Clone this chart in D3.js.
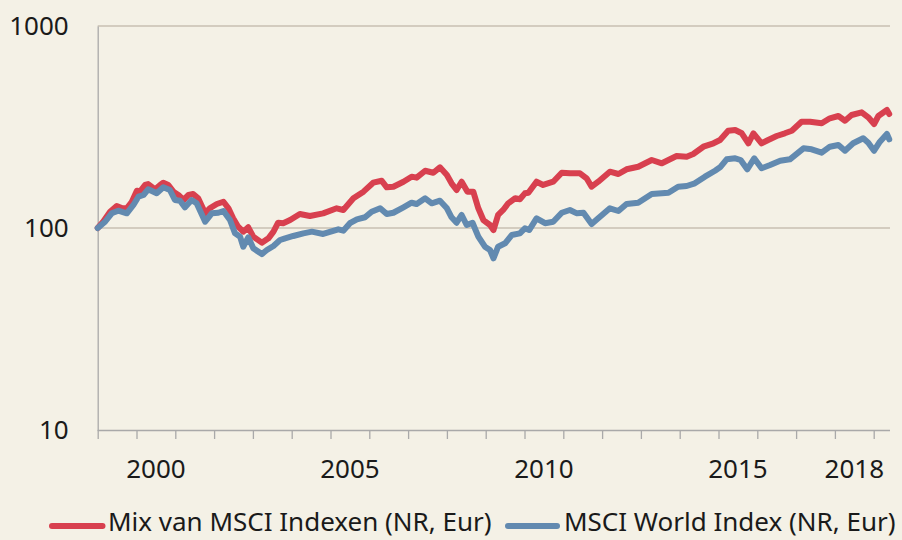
<!DOCTYPE html>
<html>
<head>
<meta charset="utf-8">
<script src="https://cdn.jsdelivr.net/npm/d3@7"></script>
<style>
  html, body { margin: 0; padding: 0; background: #f4f1e6; }
  svg { display: block; }
  text { font-family: "Noto Sans", "Open Sans", sans-serif; fill: #1a1a1a; }
</style>
</head>
<body>
<svg id="chart" width="902" height="540"></svg>
<script>
// ---- Data (decimal years, index values) ----
const seriesNames = ["Mix van MSCI Indexen (NR, Eur)", "MSCI World Index (NR, Eur)"];
const seriesColors = ["#d8404f", "#628ab0"];

const mixDates = [1999.00,1999.14,1999.32,1999.49,1999.62,1999.75,1999.88,2000.01,2000.09,2000.22,2000.30,2000.48,2000.61,2000.69,2000.82,2000.95,
2001.08,2001.21,2001.34,2001.46,2001.59,2001.77,2001.89,2002.07,2002.24,2002.37,2002.49,2002.62,2002.75,2002.88,2003.01,2003.23,2003.40,2003.53,2003.65,2003.78,2003.96,
2004.21,2004.47,2004.81,2005.16,2005.33,2005.59,2005.85,2006.10,2006.32,2006.45,2006.62,2006.88,2007.09,2007.22,2007.44,2007.65,2007.82,2008.00,2008.12,2008.25,2008.38,2008.53,2008.68,2008.81,2008.94,
2009.11,2009.20,2009.32,2009.45,2009.58,2009.76,2009.88,2010.01,2010.10,2010.31,2010.48,2010.74,2010.96,2011.17,2011.43,2011.60,2011.73,2011.90,2012.20,2012.42,2012.63,2012.93,
2013.28,2013.54,2013.71,2013.92,2014.18,2014.35,2014.61,2014.87,2015.04,2015.25,2015.43,2015.60,2015.77,2015.90,2016.11,2016.28,2016.50,2016.71,2016.89,2017.14,2017.36,2017.66,2017.87,
2018.09,2018.26,2018.43,2018.69,2018.86,2019.01,2019.12,2019.34,2019.40];
const mixValues = [100,107.4,120.4,128.5,125.6,125.2,134.9,153.0,151.3,163.3,165.1,155.4,163.3,167.6,163.3,151.3,
145.7,137.6,145.7,147.3,140.3,118.2,125.2,131.5,134.9,125.2,111.7,101.5,95.9,100.8,90.6,84.6,88.9,95.9,106.2,105.6,109.5,
117.3,114.6,118.2,125.2,122.8,140.3,151.3,167.6,171.4,159.0,160.1,169.5,179.5,177.5,192.1,187.8,199.7,182.9,166.4,154.2,169.5,151.3,151.3,125.2,109.5,
103.5,97.7,116.0,122.8,132.5,140.3,138.7,148.5,149.5,169.5,163.3,169.5,187.8,186.6,186.6,176.2,160.1,169.5,190.0,185.1,195.3,201.1,
217.1,209.1,217.1,227.2,225.4,232.4,252.6,262.6,272.7,303.1,305.6,294.3,262.6,294.3,262.6,272.7,285.4,294.3,303.1,335.9,335.9,329.9,349.2,
358.5,339.8,362.6,374.0,353.2,327.2,358.5,383.8,366.8];

const worldDates = [1999.00,1999.19,1999.36,1999.53,1999.75,1999.92,2000.05,2000.18,2000.30,2000.52,2000.69,2000.86,2000.99,
2001.12,2001.25,2001.42,2001.55,2001.77,2001.94,2002.11,2002.24,2002.41,2002.54,2002.67,2002.75,2002.88,2003.01,2003.23,2003.36,2003.53,2003.70,2003.83,
2004.04,2004.30,2004.52,2004.81,2005.20,2005.33,2005.50,2005.68,2005.89,2006.06,2006.28,2006.45,2006.62,2006.88,2007.09,2007.22,2007.44,2007.61,2007.82,
2008.00,2008.12,2008.25,2008.38,2008.51,2008.66,2008.81,2008.98,2009.11,2009.20,2009.32,2009.50,2009.67,2009.88,2010.01,2010.12,2010.31,2010.53,2010.74,2010.96,
2011.17,2011.35,2011.52,2011.73,2011.90,2012.20,2012.42,2012.63,2012.93,2013.28,2013.54,2013.71,2013.96,2014.18,2014.39,2014.65,2014.91,2015.04,2015.21,2015.43,2015.57,2015.74,2015.92,
2016.11,2016.33,2016.59,2016.84,2017.19,2017.40,2017.66,2017.87,2018.09,2018.26,2018.47,2018.73,2018.86,2019.01,2019.16,2019.34,2019.40];
const worldValues = [100,107.4,118.2,121.8,118.2,130.0,142.9,145.7,155.4,148.5,159.0,154.2,137.6,
136.5,126.6,137.6,132.5,107.4,118.2,119.0,121.4,109.5,94.1,90.6,80.8,89.9,79.3,74.3,77.8,81.5,87.2,88.9,
91.3,94.1,95.9,93.4,98.5,97.0,105.6,110.4,113.0,120.4,125.2,117.3,119.0,126.6,133.4,131.5,140.3,132.5,136.5,
125.2,113.0,106.2,116.0,103.5,106.2,90.6,80.8,77.8,70.8,80.8,84.0,92.3,94.1,99.7,97.7,111.7,105.6,107.4,119.0,
122.8,118.2,119.0,104.7,111.7,125.2,121.4,131.5,133.4,147.3,148.5,149.5,160.1,161.4,166.4,179.5,192.1,199.7,218.8,221.3,217.1,195.3,221.3,
197.5,205.0,215.3,218.8,248.0,245.2,235.9,252.6,257.5,241.3,262.6,278.0,264.4,241.3,267.4,291.9,274.8];

const yTickValues = [10, 100, 1000];
const xLabelYears = [2000, 2005, 2010, 2015, 2018];
const xTickYears = d3.range(1999, 2020);

// ---- Layout ----
const svg = d3.select("#chart");
const W = 902, H = 540;
const x0 = 97.7, x1 = 890;
const FONT = 26;

svg.append("rect").attr("width", W).attr("height", H).attr("fill", "#f4f1e6");

const x = d3.scaleLinear().domain([1999, 2019.42]).range([x0, x1]);
const y = d3.scaleLog().domain([10, 1000]).range([430, 26]);

// gridlines
svg.append("g")
  .selectAll("line")
  .data(yTickValues.filter(v => v > 10))
  .join("line")
  .attr("x1", x0).attr("x2", x1)
  .attr("y1", d => y(d)).attr("y2", d => y(d))
  .attr("stroke", "#c9bfb2").attr("stroke-width", 1.3);

// y axis
const yAxis = svg.append("g").attr("transform", `translate(${x0},0)`)
  .call(d3.axisLeft(y).tickValues(yTickValues).tickFormat(d3.format("d")).tickSize(0).tickPadding(29));
yAxis.select(".domain").attr("stroke", "#a9a9a9").attr("stroke-width", 1.3);
yAxis.selectAll("text").attr("font-size", FONT).attr("fill", "#1a1a1a")
  .attr("font-family", '"Noto Sans", "Open Sans", sans-serif');

// x axis ticks
const xAxis = svg.append("g").attr("transform", `translate(0,430)`)
  .call(d3.axisBottom(x).tickValues(xTickYears).tickSize(9).tickFormat(""));
xAxis.select(".domain").attr("stroke", "#a9a9a9").attr("stroke-width", 1.3)
  .attr("d", `M${x0},0.5H${x1}`);
xAxis.selectAll(".tick line").attr("stroke", "#a9a9a9").attr("stroke-width", 1.3);

// x labels centred in year
svg.append("g").selectAll("text")
  .data(xLabelYears)
  .join("text")
  .attr("x", d => x(d + 0.5))
  .attr("y", 478)
  .attr("text-anchor", "middle")
  .attr("font-size", FONT)
  .text(d => d);

// lines
const line = d3.line().x(d => x(d[0])).y(d => y(d[1])).curve(d3.curveLinear);
const series = [
  d3.zip(mixDates, mixValues),
  d3.zip(worldDates, worldValues)
];
series.forEach((s, i) => {
  svg.append("path")
    .datum(s)
    .attr("fill", "none")
    .attr("stroke", seriesColors[i])
    .attr("stroke-width", 6)
    .attr("stroke-linejoin", "round")
    .attr("stroke-linecap", "round")
    .attr("d", line);
});

// legend
const legendItems = [
  { sx: 49, ex: 105.5, tx: 108 },
  { sx: 505, ex: 560, tx: 564 }
];
legendItems.forEach((l, i) => {
  svg.append("line")
    .attr("x1", l.sx + 3).attr("x2", l.ex - 3)
    .attr("y1", 526).attr("y2", 526)
    .attr("stroke", seriesColors[i]).attr("stroke-width", 6)
    .attr("stroke-linecap", "round");
  svg.append("text")
    .attr("x", l.tx).attr("y", 531)
    .attr("font-size", FONT)
    .text(seriesNames[i]);
});
</script>
</body>
</html>
